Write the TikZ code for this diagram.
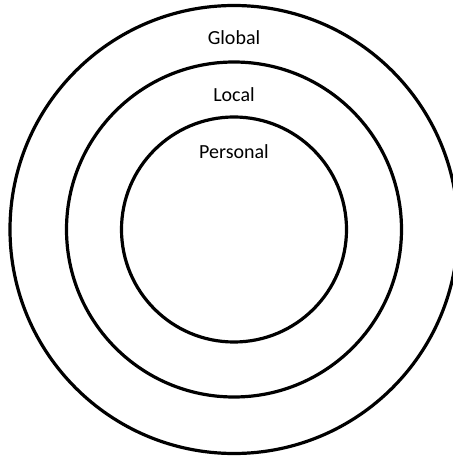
\documentclass[tikz,border=0pt]{standalone}
\usepackage{fontspec}
\setmainfont{Carlito}
\begin{document}
\begin{tikzpicture}[x=1pt, y=1pt, line cap=round,
    ring/.style={line width=3.2pt},
    ringlabel/.style={anchor=base, inner sep=0pt, font=\fontsize{20}{24}\selectfont}]
        \useasboundingbox (0,0) rectangle (453,456);
        \clip (0,0) rectangle (453,456);
        \coordinate (c) at (234,226.5);

        % ---- the three rings ----
        \draw[ring] (c) circle (224pt);
        \draw[ring] (c) circle (167.5pt);
        \draw[ring] (c) circle (112.5pt);

        % ---- labels, just inside the top of each ring ----
        \node[ringlabel] (global) at (234,411) {Global};
        \node[ringlabel] (local) at (234,354) {Local};
        \node[ringlabel] (personal) at (234,297) {Personal};
    \end{tikzpicture}
\end{document}
